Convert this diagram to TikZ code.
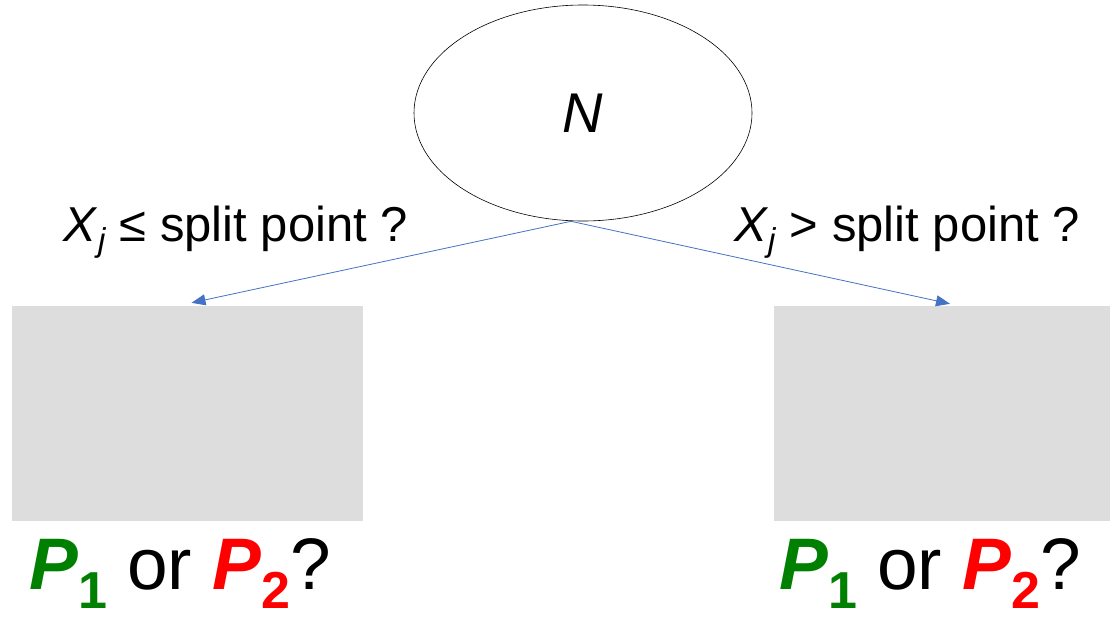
\documentclass[tikz,border=0pt]{standalone}
\usepackage{fontspec}
\setmainfont{Liberation Sans}
\usetikzlibrary{shapes.geometric,arrows.meta}
\definecolor{arrowblue}{HTML}{4472C4}
\newcommand{\lowsub}[3]{\raisebox{-#2}{\fontsize{#3}{#3}\selectfont #1}}

\begin{document}
\begin{tikzpicture}[x=1pt,y=-1pt,
	leaf/.style={fill=black!13.5,minimum height=215pt,inner sep=0pt},
	split/.style={draw=arrowblue,line width=0.8pt,-{Triangle[length=14pt,width=11pt]}},
	cond/.style={font=\fontsize{49}{52}\selectfont,inner sep=0pt},
	guess/.style={font=\fontsize{73}{76}\selectfont,inner sep=0pt}]
	\useasboundingbox (0,0) rectangle (1110,619);
	\node[draw,ellipse,line width=0.6pt,minimum width=338pt,minimum height=216pt,inner sep=0pt,
		font=\fontsize{56}{60}\selectfont\itshape] (root) at (583,113) {N};
	\node[leaf,minimum width=351pt] (leftleaf) at (187.5,413.5) {};
	\node[leaf,minimum width=336pt] (rightleaf) at (942,413.5) {};
	\draw[split] ([xshift=-12pt]root.south) -- ([shift={(4,-3)}]leftleaf.north);
	\draw[split] ([xshift=-12pt]root.south) -- ([shift={(8,-2)}]rightleaf.north);
	\node[cond] (leftcond) at (236,232) {\textit{X}\lowsub{\textit{j}}{10pt}{33} ≤ split point ?};
	\node[cond] (rightcond) at (907,232) {\textit{X}\lowsub{\textit{j}}{10pt}{33} > split point ?};
	\node[guess] (leftguess) at (180,574)
		{\textcolor{green!50!black}{\textbf{\textit{P}}\lowsub{\textbf{1}}{19pt}{52}} or
		\textcolor{red}{\textbf{\textit{P}}\lowsub{\textbf{2}}{19pt}{52}}?};
	\node[guess] (rightguess) at (930,574)
		{\textcolor{green!50!black}{\textbf{\textit{P}}\lowsub{\textbf{1}}{19pt}{52}} or
		\textcolor{red}{\textbf{\textit{P}}\lowsub{\textbf{2}}{19pt}{52}}?};
\end{tikzpicture}
\end{document}
